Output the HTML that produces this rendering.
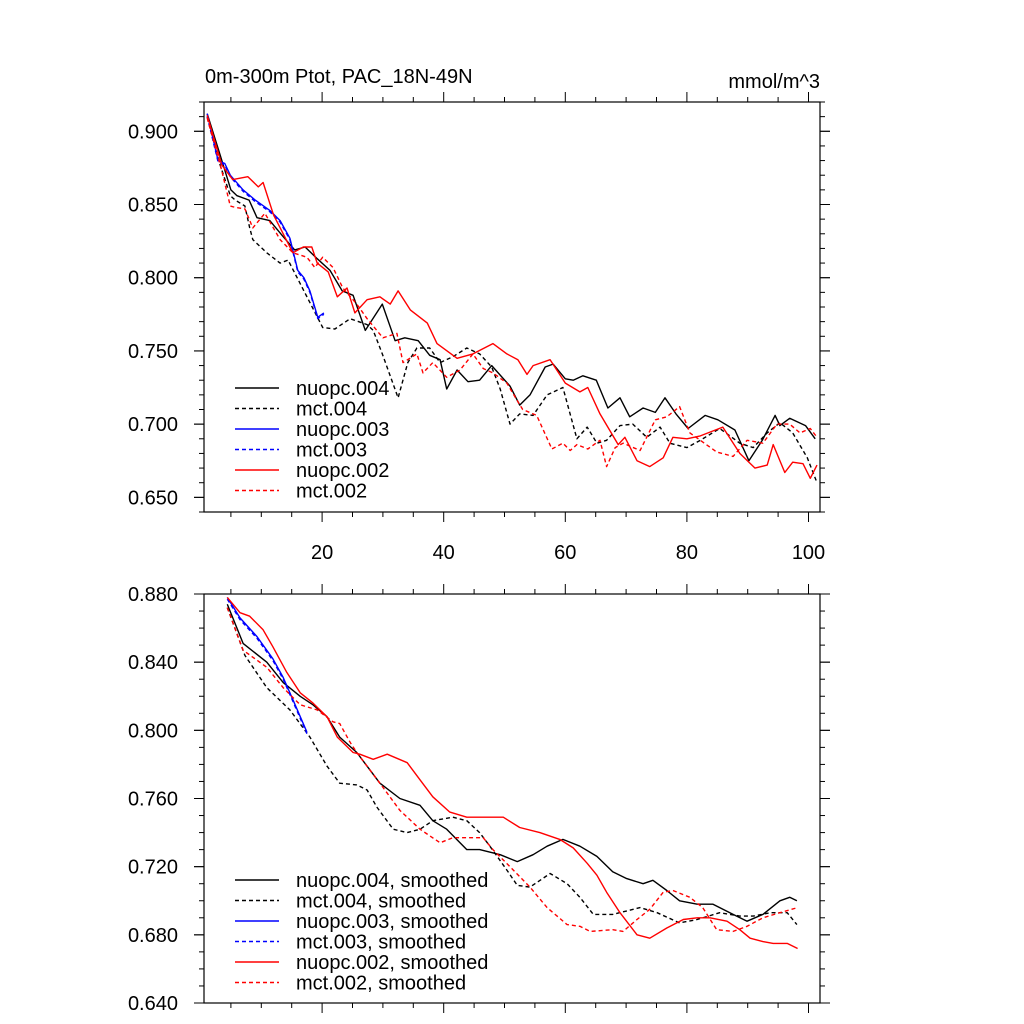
<!DOCTYPE html>
<html><head><meta charset="utf-8"><style>
html,body{margin:0;padding:0;background:#fff;}
svg{display:block;font-family:"Liberation Sans",sans-serif;}
</style></head><body>
<svg id="chart" width="1024" height="1024" viewBox="0 0 1024 1024">
<text x="205" y="83" font-size="20">0m-300m Ptot, PAC_18N-49N</text>
<text x="820" y="88" font-size="20" text-anchor="end">mmol/m^3</text>
<g id="top"></g>
<g id="bot"></g>
</svg>
<script>
// ---- data: top panel (annual means) ----
const topXTicks = [20, 40, 60, 80, 100];
const topYTicks = [0.650, 0.700, 0.750, 0.800, 0.850, 0.900];
const bottomYTicks = [0.640, 0.680, 0.720, 0.760, 0.800, 0.840, 0.880];

const nuopc004X = [1.1,3,5,6,8,9.3,11.4,13.6,15.5,17.2,19.2,21.3,23.3,25.1,27.1,29.9,32,33.6,35.8,37.7,39.4,40.5,42.2,44,45.9,47.9,50.9,52.5,54.2,56.7,58,60,61.3,62.9,65.1,67,69,70.6,72.8,74.8,76.4,78.2,80.2,83,85.1,87.9,90.2,92.4,94.5,95.3,96.9,99.5,101.1];
const nuopc004Y = [0.912,0.887,0.860,0.856,0.853,0.841,0.839,0.828,0.819,0.821,0.813,0.805,0.791,0.788,0.764,0.782,0.757,0.759,0.757,0.747,0.744,0.724,0.737,0.729,0.730,0.740,0.726,0.713,0.720,0.739,0.741,0.731,0.730,0.733,0.730,0.711,0.718,0.705,0.711,0.708,0.718,0.707,0.697,0.706,0.703,0.696,0.675,0.689,0.706,0.699,0.704,0.699,0.690];

const mct004X = [1.1,3,4.9,5.7,7.3,8.1,8.6,10.9,13.1,14.4,20.1,22.1,24.6,27.4,28.4,29.9,32.5,34.1,35.6,37.7,39.4,41.5,43.8,45.9,47.9,49.3,50.9,52.5,54.7,57,59.6,61.9,63.6,65.2,66.8,69,71.1,73.4,75.6,77.2,80,82.2,85.4,88.7,90.9,93.2,95.3,97.4,99.8,101.4];
const mct004Y = [0.910,0.880,0.856,0.853,0.849,0.834,0.826,0.817,0.810,0.812,0.766,0.765,0.772,0.768,0.764,0.748,0.718,0.742,0.752,0.752,0.742,0.746,0.752,0.748,0.739,0.724,0.700,0.707,0.706,0.720,0.725,0.690,0.698,0.687,0.689,0.699,0.700,0.691,0.698,0.687,0.684,0.689,0.697,0.687,0.684,0.694,0.701,0.694,0.677,0.660];

const nuopc003X = [1.1,2.9,4,4.9,7,9,11.4,13.1,14.7,16,17,18,19.3,20.3];
const nuopc003Y = [0.912,0.880,0.878,0.870,0.860,0.853,0.846,0.839,0.827,0.805,0.800,0.791,0.773,0.776];
const mct003X = [1.1,2.9,4,4.9,7,9,11.4,13.1,14.7,16,17,18,19.3,20.3];
const mct003Y = [0.910,0.879,0.877,0.869,0.859,0.852,0.845,0.838,0.826,0.804,0.799,0.790,0.772,0.775];

const nuopc002X = [1.1,3.5,5.3,7.8,9.5,10.3,12,13.6,15.2,16.9,18.3,19.2,21,22.5,24.1,25.4,27.4,29.5,31.2,32.5,34.5,37.3,38.9,42.2,44.8,48.1,50.4,52.2,53.7,54.7,57.5,60,62.4,63.7,65.7,68.7,69.8,71.8,73.9,76.1,77.7,80,82.2,85.9,88.7,91.2,93.2,94.2,96.1,97.4,99.1,100.3,101.4];
const nuopc002Y = [0.911,0.877,0.867,0.869,0.862,0.865,0.843,0.830,0.817,0.821,0.821,0.810,0.804,0.787,0.793,0.776,0.785,0.787,0.782,0.791,0.778,0.769,0.755,0.745,0.748,0.755,0.748,0.744,0.734,0.740,0.744,0.728,0.722,0.725,0.707,0.686,0.691,0.675,0.671,0.677,0.691,0.690,0.692,0.698,0.680,0.670,0.672,0.686,0.667,0.674,0.673,0.663,0.672];

const mct002X = [1.1,3.5,4.9,5.7,7.3,8.6,10.6,13.1,15.2,17.5,18.8,20.1,21.8,23.4,25.7,27.4,30,32.3,33.3,35.6,36.6,38.2,40.5,42.7,44.8,46.5,48.1,50.4,52.1,53,55.3,57.8,59.6,60.8,61.9,63.7,65.7,66.8,68.2,69.5,72.3,74.8,76.7,78.8,80.5,82.2,84.9,87.6,89.9,92.5,94.8,96.9,98.6,100.3,101.4];
const mct002Y = [0.909,0.873,0.849,0.848,0.847,0.834,0.844,0.826,0.817,0.814,0.807,0.814,0.807,0.793,0.782,0.772,0.759,0.762,0.742,0.748,0.735,0.742,0.732,0.737,0.748,0.738,0.735,0.728,0.716,0.710,0.706,0.683,0.687,0.682,0.686,0.683,0.689,0.671,0.684,0.687,0.682,0.703,0.705,0.712,0.694,0.689,0.681,0.678,0.689,0.687,0.700,0.700,0.694,0.697,0.691];

// ---- data: bottom panel (smoothed) ----
const sNuopc004X = [4.4,7,10.9,13.6,16.4,18.5,20.8,22.9,25.7,29.5,32.8,36.1,38.2,40.5,43.8,45.9,49.3,52.1,54.7,57,59.6,62.4,65.2,67.8,70.1,72.8,74.4,76.7,78.8,81.7,84.3,87.6,89.9,92.5,95.3,96.9,98.1];
const sNuopc004Y = [0.874,0.851,0.840,0.828,0.820,0.815,0.808,0.796,0.787,0.769,0.760,0.756,0.747,0.742,0.730,0.730,0.727,0.723,0.727,0.732,0.736,0.732,0.726,0.717,0.713,0.710,0.712,0.706,0.700,0.698,0.698,0.692,0.688,0.692,0.700,0.702,0.700];
const sMct004X = [4.4,7.3,10.9,14.7,18,20.8,22.9,25.7,27.4,29,31.7,34,36.1,38.2,41.5,43.8,45.9,47.6,50.4,52.1,54.2,57.5,60.3,62.4,64.6,67.8,72.3,75.1,78.8,81.7,85.4,88.7,90.9,93.7,96.5,98.1];
const sMct004Y = [0.872,0.844,0.825,0.812,0.796,0.779,0.769,0.768,0.765,0.755,0.742,0.740,0.742,0.747,0.749,0.747,0.740,0.732,0.718,0.709,0.708,0.716,0.710,0.702,0.692,0.692,0.696,0.693,0.687,0.689,0.693,0.691,0.691,0.693,0.693,0.686];
const sNuopc003X = [4.4,6.5,9.3,11.9,13.6,15.2,17.5];
const sNuopc003Y = [0.878,0.866,0.855,0.842,0.831,0.818,0.799];
const sMct003X = [4.4,6.5,9.3,11.9,13.6,15.2,17.5];
const sMct003Y = [0.877,0.865,0.854,0.841,0.830,0.817,0.798];
const sNuopc002X = [4.4,6.5,8.1,10.3,11.9,14.2,16.4,18.5,20.8,22.5,25.1,26.2,28.4,30.7,34,36.1,38.2,41,43.8,46.5,49.8,52.5,55.8,59.1,61.3,63.6,65.2,66.8,69,71.8,73.9,76.7,79.4,81.7,83.8,86.6,88.7,90.4,92.5,94.2,96.5,98.2];
const sNuopc002Y = [0.878,0.869,0.867,0.859,0.849,0.834,0.822,0.816,0.808,0.796,0.787,0.786,0.783,0.786,0.781,0.771,0.761,0.752,0.749,0.749,0.749,0.743,0.740,0.736,0.731,0.722,0.715,0.705,0.693,0.680,0.678,0.684,0.689,0.690,0.690,0.688,0.683,0.678,0.676,0.675,0.675,0.672];
const sMct002X = [4.4,7,10.9,13.6,16.4,19.2,21.8,22.9,24.6,25.7,29.5,32.8,36.1,39.4,41.5,46.5,48.1,50.9,54.2,57,60.3,62.4,64.1,67.8,69.5,71.8,73.9,76.1,77.7,80.5,82.6,84.9,87.6,89.9,92.5,95.3,98.2];
const sMct002Y = [0.872,0.847,0.837,0.825,0.815,0.812,0.805,0.804,0.793,0.787,0.769,0.753,0.742,0.734,0.737,0.737,0.730,0.720,0.708,0.696,0.686,0.685,0.682,0.683,0.682,0.689,0.695,0.705,0.706,0.702,0.696,0.683,0.682,0.685,0.690,0.693,0.696];

const NS = "http://www.w3.org/2000/svg";
function mk(tag, attrs, parent){const e=document.createElementNS(NS,tag);for(const k in attrs)e.setAttribute(k,attrs[k]);parent.appendChild(e);return e;}

function panel(g, box, yMin, yMax, yTicks, xLabels, legendY, legendFont, series, suffix){
  const xMin=(box.l-200.5)/6.08, xMax=(box.r-200.5)/6.08;
  const sx=v=>box.l+(v-xMin)/(xMax-xMin)*(box.r-box.l);
  const sy=v=>box.b-(v-yMin)/(yMax-yMin)*(box.b-box.t);
  const fr=mk('rect',{x:box.l,y:box.t,width:box.r-box.l,height:box.b-box.t,fill:'none',stroke:'#000','stroke-width':1.2},g);
  
  
  for(let v=5; v<=xMax; v+=5){
    const major=v%20===0, L=major?10:5, x=sx(v);
    const t1=mk('line',{x1:x,x2:x,y1:box.b,y2:box.b+L,stroke:'#000','stroke-width':1},g);
    
    
    const t2=mk('line',{x1:x,x2:x,y1:box.t,y2:box.t-L,stroke:'#000','stroke-width':1},g);
    
    
  }
  if(xLabels){
    xLabels.forEach(v=>{
      const t=mk('text',{x:sx(v),y:box.b+47,'font-size':20,'text-anchor':'middle'},g);
      t.textContent=v;
      
      
    });
  }
  for(let i=Math.ceil(yMin*100-1e-6); i<=Math.floor(yMax*100+1e-6); i++){
    const v=i/100, y=sy(v);
    const major=yTicks.some(t=>Math.abs(t-v)<1e-6), L=major?10:5;
    const a=mk('line',{x1:box.l,x2:box.l-L,y1:y,y2:y,stroke:'#000','stroke-width':1},g);
    
    
    const b=mk('line',{x1:box.r,x2:box.r+L,y1:y,y2:y,stroke:'#000','stroke-width':1},g);
    
    
  }
  yTicks.forEach(v=>{
    const y=sy(v);
    const a=mk('line',{x1:box.l,x2:box.l-10,y1:y,y2:y,stroke:'#000','stroke-width':1},g);
    
    
    const b=mk('line',{x1:box.r,x2:box.r+10,y1:y,y2:y,stroke:'#000','stroke-width':1},g);
    
    
    const t=mk('text',{x:178,y:y+7,'font-size':20,'text-anchor':'end'},g);
    t.textContent=v.toFixed(3);
    
    
  });
  series.forEach((s,i)=>{
    const pts=s.x.map((xv,j)=>sx(xv).toFixed(1)+','+sy(s.y[j]).toFixed(1)).join(' ');
    const attrs={points:pts,fill:'none',stroke:s.c,'stroke-width':1.4,'stroke-linejoin':'round'};
    if(s.d) attrs['stroke-dasharray']='4,3';
    const p=mk('polyline',attrs,g);
    
    
    const ly=legendY+i*20.5;
    const la={x1:235,x2:279,y1:ly,y2:ly,stroke:s.c,'stroke-width':1.4};
    if(s.d) la['stroke-dasharray']='4,3';
    const l=mk('line',la,g);
    
    
    const t=mk('text',{x:296,y:ly+7,'font-size':legendFont},g);
    t.textContent=s.n+suffix;
    
    
  });
}
panel(document.getElementById('top'),{l:204,r:820,t:102,b:512},0.640,0.920,topYTicks,topXTicks,388,20,[
  {n:'nuopc.004',x:nuopc004X,y:nuopc004Y,c:'#000',d:false},
  {n:'mct.004',x:mct004X,y:mct004Y,c:'#000',d:true},
  {n:'nuopc.003',x:nuopc003X,y:nuopc003Y,c:'#0000ff',d:false},
  {n:'mct.003',x:mct003X,y:mct003Y,c:'#0000ff',d:true},
  {n:'nuopc.002',x:nuopc002X,y:nuopc002Y,c:'#ff0000',d:false},
  {n:'mct.002',x:mct002X,y:mct002Y,c:'#ff0000',d:true}
],'');
panel(document.getElementById('bot'),{l:204,r:820,t:594,b:1003},0.640,0.880,bottomYTicks,null,880,20,[
  {n:'nuopc.004',x:sNuopc004X,y:sNuopc004Y,c:'#000',d:false},
  {n:'mct.004',x:sMct004X,y:sMct004Y,c:'#000',d:true},
  {n:'nuopc.003',x:sNuopc003X,y:sNuopc003Y,c:'#0000ff',d:false},
  {n:'mct.003',x:sMct003X,y:sMct003Y,c:'#0000ff',d:true},
  {n:'nuopc.002',x:sNuopc002X,y:sNuopc002Y,c:'#ff0000',d:false},
  {n:'mct.002',x:sMct002X,y:sMct002Y,c:'#ff0000',d:true}
],', smoothed');
</script>
</body></html>
